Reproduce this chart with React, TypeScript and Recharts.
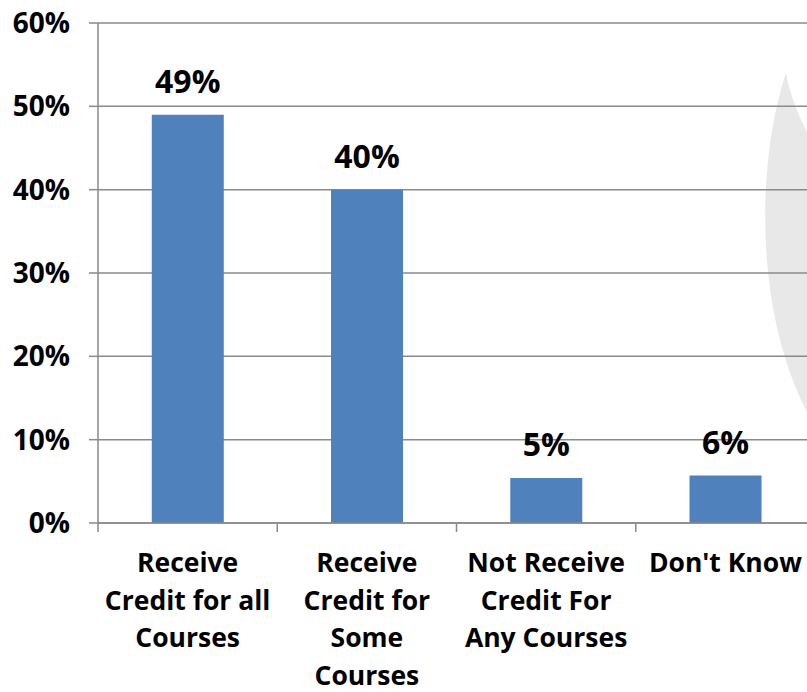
import { BarChart, Bar, XAxis, YAxis, CartesianGrid, LabelList } from "recharts";

const categories = [
  "Receive\nCredit for all\nCourses",
  "Receive\nCredit for\nSome\nCourses",
  "Not Receive\nCredit For\nAny Courses",
  "Don't Know",
];
const shares = [0.49, 0.4, 0.054, 0.057];
const yTicks = [0, 0.1, 0.2, 0.3, 0.4, 0.5, 0.6];

const data = categories.map((name, i) => ({ name, share: shares[i] }));

const FONT = "'Open Sans', sans-serif";
const GRID = "#8a8a8a";

const pct = (v: number) => `${Math.round(v * 100)}%`;

function CategoryTick(props: any) {
  const { x, y, payload, width, visibleTicksCount } = props;
  const band = width / visibleTicksCount;
  const lines = String(payload.value).split("\n");
  const left = x - band / 2;
  return (
    <g>
      <line x1={left} y1={y} x2={left} y2={y + 9} stroke={GRID} strokeWidth={1.5} />
      <text x={x} y={y + 49} textAnchor="middle" fontFamily={FONT} fontWeight={700} fontSize={26.5} fill="#000">
        {lines.map((l, i) => (
          <tspan key={i} x={x} dy={i === 0 ? 0 : 37.6}>
            {l}
          </tspan>
        ))}
      </text>
    </g>
  );
}

export default function App() {
  return (
    <div style={{ width: 807, height: 692, overflow: "hidden", position: "relative", background: "#fff" }}>
      <style>{"html,body{margin:0;padding:0;overflow:hidden}"}</style>
      <svg width={807} height={692} style={{ position: "absolute", left: 0, top: 0 }}>
        <path d="M786,73 C760,150 750,300 807,412 L807,132 C797,112 790,95 786,73 Z" fill="#e8e8e8" />
      </svg>
      <div style={{ position: "absolute", left: 0, top: 0 }}>
        <BarChart width={840} height={692} data={data} margin={{ top: 23, right: 25, bottom: 0, left: 0 }} barCategoryGap="30%">
          <CartesianGrid vertical={false} stroke={GRID} strokeWidth={1.5} />
          <XAxis
            dataKey="name"
            height={169}
            interval={0}
            tickLine={false}
            tickSize={0}
            tickMargin={0}
            axisLine={{ stroke: GRID, strokeWidth: 1.5 }}
            tick={<CategoryTick />}
          />
          <YAxis
            width={98}
            domain={[0, 0.6]}
            ticks={yTicks}
            tickFormatter={pct}
            tickSize={9}
            tickMargin={19}
            axisLine={{ stroke: GRID, strokeWidth: 1.5 }}
            tickLine={{ stroke: GRID, strokeWidth: 1.5 }}
            tick={{ fontFamily: FONT, fontWeight: 700, fontSize: 28, fill: "#000" }}
          />
          <Bar dataKey="share" fill="#4f81bd" isAnimationActive={false}>
            <LabelList
              dataKey="share"
              position="top"
              offset={22}
              formatter={(v: any) => pct(Number(v))}
              style={{ fontFamily: FONT, fontWeight: 700, fontSize: 32, fill: "#000" }}
            />
          </Bar>
        </BarChart>
      </div>
    </div>
  );
}
